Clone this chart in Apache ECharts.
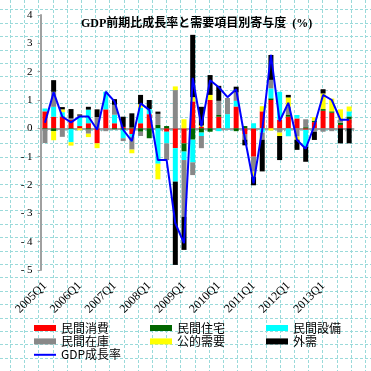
<!DOCTYPE html>
<html><head><meta charset="utf-8">
<script src="https://cdn.jsdelivr.net/npm/echarts@6/dist/echarts.min.js"></script>
<style>html,body{margin:0;padding:0;background:#fff}#c{width:371px;height:371px}</style>
</head><body><div id="c"></div>
<script>
const categories = ['2005Q1','2005Q2','2005Q3','2005Q4','2006Q1','2006Q2','2006Q3','2006Q4',
  '2007Q1','2007Q2','2007Q3','2007Q4','2008Q1','2008Q2','2008Q3','2008Q4',
  '2009Q1','2009Q2','2009Q3','2009Q4','2010Q1','2010Q2','2010Q3','2010Q4',
  '2011Q1','2011Q2','2011Q3','2011Q4','2012Q1','2012Q2','2012Q3','2012Q4',
  '2013Q1','2013Q2','2013Q3','2013Q4'];
const privateConsumption = [0.60,0.41,0.40,0.30,0.08,0.18,-0.53,0.67,0.18,0.05,-0.20,0.18,0.50,0.00,-0.12,-0.70,
  -0.53,0.95,0.05,1.00,0.41,0.00,0.77,-0.20,-1.00,0.60,1.00,0.30,0.41,0.35,-0.05,0.22,0.62,0.55,0.12,0.32];
const privateHousing = [-0.02,-0.10,0.02,-0.02,0.00,-0.04,0.00,0.00,-0.03,-0.05,0.03,-0.12,-0.35,0.12,0.08,0.00,
  -0.29,-0.40,-0.15,-0.12,0.06,0.00,-0.10,0.08,0.00,0.00,0.06,0.00,0.06,0.00,0.04,0.05,0.06,0.05,0.08,0.10];
const privateInvestment = [0.10,0.35,0.15,-0.47,0.33,0.48,0.00,0.62,0.30,-0.30,-0.10,0.55,0.18,-1.25,-0.41,-1.18,
  -0.30,-0.80,-0.12,0.00,-0.10,0.50,0.20,0.00,0.18,-0.15,0.35,0.99,-0.28,0.12,-0.60,0.00,0.00,0.00,0.00,0.18];
const privateInventory = [-0.50,0.53,-0.30,0.05,0.04,-0.15,0.40,-0.10,0.35,-0.10,-0.45,-0.15,0.00,0.39,-0.59,1.35,
  -2.00,-0.45,-0.43,0.00,0.50,0.57,0.30,-0.20,-0.53,-0.25,0.30,-0.15,0.30,-0.29,0.28,-0.12,-0.12,-0.10,0.12,0.00];
const publicDemand = [0.00,-0.32,0.10,-0.12,-0.07,-0.12,-0.17,0.00,0.00,0.00,-0.13,0.12,0.00,-0.55,0.00,0.13,
  0.32,0.15,0.05,0.18,0.00,0.00,0.00,0.00,-0.18,0.18,-0.08,-0.12,0.32,-0.11,0.00,0.12,0.55,0.45,0.35,0.17];
const externalDemand = [0.00,0.41,0.08,0.33,0.04,0.10,0.27,0.00,0.20,0.36,0.50,0.33,0.32,0.08,0.00,-2.94,
  -1.17,2.20,0.66,0.70,0.53,0.00,0.20,-0.20,-0.30,-1.12,0.88,-0.85,0.09,-0.36,-0.53,-0.29,0.15,0.00,-0.53,-0.53];
const gdpGrowth = [0.20,1.27,0.41,0.21,0.42,0.42,-0.05,1.29,0.95,-0.05,-0.45,0.88,0.65,-1.12,-1.12,-3.35,
  -4.05,1.78,0.06,1.70,1.45,1.10,1.38,-0.35,-1.94,-0.05,2.59,0.25,0.90,-0.41,-0.72,0.10,1.18,1.00,0.30,0.30];
const yTicks = [-5,-4,-3,-2,-1,0,1,2,3,4];
const legendRows = [
  ['民間消費','民間住宅','民間設備'],
  ['民間在庫','公的需要','外需'],
  ['GDP成長率']
];

const barSeries = [
  ['民間消費', privateConsumption, '#ff0000'],
  ['民間住宅', privateHousing, '#006600'],
  ['民間設備', privateInvestment, '#00ffff'],
  ['民間在庫', privateInventory, '#888888'],
  ['公的需要', publicDemand, '#ffff00'],
  ['外需', externalDemand, '#000000']
];

const serif = "'Liberation Serif','Noto Sans CJK JP'";
const sans = "'Noto Sans CJK JP'";

// page background dashed grid
const bg = [];
for (let k = 0; k < 27; k++) {
  const x = Math.round(10 + 14.2 * k) + 0.5;
  bg.push({type:'line', z:-10, silent:true, shape:{x1:x,y1:0,x2:x,y2:371},
    style:{stroke:'#9adada', lineWidth:1, lineDash:[3,2]}});
}
for (let k = 0; k < 28; k++) {
  const y = Math.round(9.4 + 13.4 * k) + 0.5;
  bg.push({type:'line', z:-10, silent:true, shape:{x1:0,y1:y,x2:371,y2:y},
    style:{stroke:'#9adada', lineWidth:1, lineDash:[3,2]}});
}

const chart = echarts.init(document.getElementById('c'), null, {renderer:'canvas'});
const legendText = {fontFamily: sans, fontSize: 12, color: '#000'};
chart.setOption({
  animation: false,
  backgroundColor: '#fff',
  graphic: {elements: bg},
  title: {
    text: 'GDP前期比成長率と需要項目別寄与度  (%)',
    left: 76, top: 13,
    textStyle: {fontFamily: serif, fontWeight: 'bold', fontSize: 12, color: '#000'}
  },
  legend: legendRows.map((row, r) => ({
    orient:'horizontal', left:34, top:322 + r * 13.4, itemWidth:22,
    itemHeight: r === 2 ? 2 : 6, icon: 'rect', itemGap:41,
    padding:0, textStyle: legendText, data: row
  })),
  grid: {left: 40.6, right: 17.5, top: 15, bottom: 101, containLabel: false},
  xAxis: [
    {type:'category', data: categories, position:'bottom',
     axisLine:{show:false, onZero:false}, axisTick:{show:false},
     axisLabel:{interval:3, rotate:45, margin:14, fontFamily: serif, fontSize:12, color:'#000'}},
    {type:'category', data: categories, position:'bottom',
     axisLine:{show:true, onZero:true, lineStyle:{color:'#a0a0a0', width:2}},
     axisTick:{show:true, length:3, lineStyle:{color:'#a0a0a0'}},
     axisLabel:{show:false}}
  ],
  yAxis: {type:'value', min:-5, max:4, interval:1,
    axisLine:{show:true, lineStyle:{color:'#a0a0a0', width:2}},
    axisTick:{show:true, length:3, lineStyle:{color:'#a0a0a0'}},
    splitLine:{show:false},
    axisLabel:{margin:8, fontFamily: serif, fontSize:11, color:'#000',
      formatter: v => v < 0 ? '- ' + (-v) : String(v)}},
  series: barSeries.map(([name, data, color]) => ({
    name, type:'bar', stack:'total', data, barWidth:5,
    itemStyle:{color}, emphasis:{disabled:true}
  })).concat([{
    name:'GDP成長率', type:'line', data: gdpGrowth, symbol:'none', z:5,
    lineStyle:{color:'#0000ff', width:2}, itemStyle:{color:'#0000ff'}
  }])
});
</script></body></html>
